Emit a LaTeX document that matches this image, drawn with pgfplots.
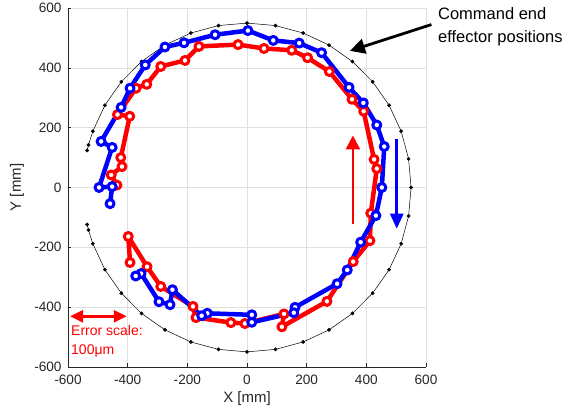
\documentclass[border=0pt]{standalone}
\usepackage{fontspec}
\setmainfont{Liberation Sans}
\usepackage{pgfplots}
\pgfplotsset{compat=1.18}
\usetikzlibrary{arrows.meta}
\begin{document}
\begin{tikzpicture}
\path (-68bp,-48bp) rectangle (515bp,366bp);
\begin{axis}[
  at={(0,0)}, anchor=south west,
  scale only axis, width=358bp, height=358.7bp,
  xmin=-600, xmax=600, ymin=-600, ymax=600,
  xtick={-600,-400,...,600}, ytick={-600,-400,...,600},
  grid=major, grid style={line width=0.5bp, color=black!12},
  axis x line=bottom, axis y line=left,
  axis line style={-, line width=0.5bp, black!85},
  tick align=inside, major tick length=3.5bp, tick style={black!85, line width=0.5bp},
  /pgf/number format/assume math mode=true,
  /pgf/number format/1000 sep={},
  ticklabel style={font=\fontsize{13.6bp}{16bp}\selectfont, text=black!85},
  xticklabel style={yshift=-5bp},
  yticklabel style={xshift=-3bp},
  xlabel={X [mm]}, ylabel={Y [mm]},
  label style={font=\fontsize{15bp}{18bp}\selectfont, text=black!85},
  xlabel style={at={(axis description cs:0.5,-0.089)}, anchor=center},
  ylabel style={at={(axis description cs:-0.1425,0.5)}, anchor=center},
  clip=false,
]
% command end effector positions
\addplot[black, line width=0.5bp, mark=*, mark size=1.6bp] coordinates {
(-535.9,123.7) (-531.3,142.4) (-516.8,188.1) (-476.3,275) (-421.3,353.5) (-353.5,421.3)
(-275,476.3) (-188.1,516.8) (-95.5,541.6) (0,550) (95.5,541.6) (188.1,516.8) (275,476.3)
(353.5,421.3) (421.3,353.5) (476.3,275) (516.8,188.1) (541.6,95.5) (550,0) (541.6,-95.5)
(516.8,-188.1) (476.3,-275) (421.3,-353.5) (353.5,-421.3) (275,-476.3) (188.1,-516.8)
(95.5,-541.6) (0,-550) (-95.5,-541.6) (-188.1,-516.8) (-275,-476.3) (-353.5,-421.3)
(-421.3,-353.5) (-476.3,-275) (-516.8,-188.1) (-531.3,-142.4) (-535.9,-123.7)
};
% red series
\addplot[red, line width=4.5bp, line join=round, mark=*, mark size=4bp,
  mark options={fill=white, draw=red, line width=3bp}] coordinates {
(-392,-251) (-398,-164) (-335,-265) (-289,-331) (-181,-398) (-171,-435) (-54,-452)
(-7,-455) (124,-423) (117,-466) (268,-381) (356,-248) (412,-178) (415,-86) (435,63)
(426,94) (391,255) (352,295) (276,388) (203,434) (150,459) (57,465) (-30,478)
(-161,472) (-208,425) (-289,405) (-336,345) (-372,332) (-434,244) (-393,238)
(-423,100) (-419,70) (-455,42) (-436,8)
};
% blue series
\addplot[blue, line width=4.5bp, line join=round, mark=*, mark size=4bp,
  mark options={fill=white, draw=blue, line width=3bp}] coordinates {
(-459,-54) (-452,3) (-496,0) (-452,134) (-489,154) (-422,268) (-392,332) (-341,410)
(-275,470) (-211,484) (-107,511) (3,525) (88,492) (175,483) (250,451) (342,335)
(390,283) (435,209) (460,137) (452,0) (432,-94) (381,-183) (336,-276) (302,-322)
(161,-401) (157,-419) (16,-451) (16,-426) (-133,-421) (-152,-429) (-250,-342)
(-258,-392) (-295,-382) (-355,-288) (-373,-296)
};
% annotations
\draw[red, line width=2.8bp, {Triangle[length=13bp,width=12bp]}-{Triangle[length=13bp,width=12bp]}]
  (axis cs:-593,-431) -- (axis cs:-403,-431);
\node[red, anchor=base west, inner sep=0, font=\fontsize{14bp}{17bp}\selectfont] at (axis cs:-590,-496) {Error scale:};
\node[red, anchor=base west, inner sep=0, font=\fontsize{14bp}{17bp}\selectfont] at (axis cs:-590,-559) {100μm};
\draw[red, line width=2.8bp, -{Triangle[length=14bp,width=14bp]}] (axis cs:355,-122) -- (axis cs:355,174);
\draw[blue, line width=2.8bp, -{Triangle[length=15bp,width=13bp]}] (axis cs:502,163) -- (axis cs:502,-138);
\draw[black, line width=2.8bp, -{Triangle[length=15bp,width=15bp]}] (axis cs:618,545) -- (axis cs:345,457);
\node[anchor=base west, inner sep=0, font=\fontsize{16.5bp}{20bp}\selectfont] at (axis cs:640,561) {Command end};
\node[anchor=base west, inner sep=0, font=\fontsize{16.5bp}{20bp}\selectfont] at (axis cs:640,486) {effector positions};
\end{axis}
\end{tikzpicture}
\end{document}
